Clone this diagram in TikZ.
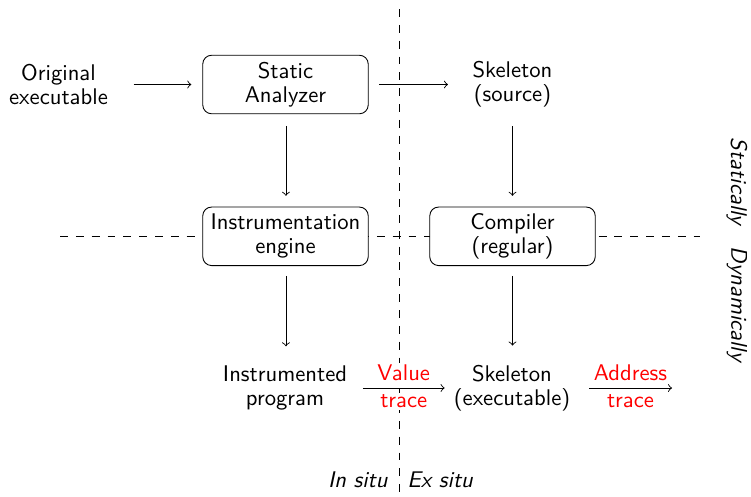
\documentclass[tikz,border=0pt]{standalone}
\begin{document}
\begin{tikzpicture}[x=0.4545pt,y=-0.4545pt,
  font=\sffamily\fontsize{10.3}{11}\selectfont,
  proc/.style={draw,rounded corners=4pt,fill=white,align=center,minimum width=75.2pt,minimum height=26.6pt,inner sep=2pt},
  plain/.style={align=center,inner sep=1pt},
  lbl/.style={text=red,fill=white,inner sep=1pt},
  sep/.style={dash pattern=on 3.6pt off 3.6pt},
  side/.style={inner sep=1pt,font=\sffamily\itshape\fontsize{10.3}{11}\selectfont},
  flow/.style={->}]
\useasboundingbox (0,0) rectangle (751,496);
\draw[sep] (399,9) -- (399,496);
\draw[sep] (60,236) -- (700,236);
\node[plain] (orig) at (58.5,84.5) {Original\\executable};
\node[proc] (sa) at (285.5,84.5) {Static\\Analyzer};
\node[plain] (skes) at (512.5,84.5) {Skeleton\\(source)};
\node[proc] (ie) at (285.5,236.3) {Instrumentation\\engine};
\node[proc] (comp) at (512.5,236.3) {Compiler\\(regular)};
\node[plain] (ip) at (285,388) {Instrumented\\program};
\node[plain] (skee) at (512,388) {Skeleton\\(executable)};
\coordinate (aend) at (672,388);
\draw[flow] ([xshift=10.5pt]orig.east) -- ([xshift=-5pt]sa.west);
\draw[flow] ([xshift=4.8pt]sa.east) -- ([xshift=-10pt]skes.west);
\draw[flow] ([xshift=0.2pt,yshift=-5.3pt]sa.south) -- ([xshift=0.2pt,yshift=4.9pt]ie.north);
\draw[flow] ([yshift=-7.2pt]skes.south) -- ([yshift=4.9pt]comp.north);
\draw[flow] ([xshift=0.2pt,yshift=-4.5pt]ie.south) -- ([xshift=0.2pt,yshift=7.6pt]ie.south |- ip.north);
\draw[flow] ([yshift=-4.5pt]comp.south) -- ([yshift=7.6pt]comp.south |- skee.north);
\draw[flow] ([xshift=6pt]ip.east) -- node[lbl,above=2pt]{Value} node[lbl,below=2pt]{trace} ([xshift=-3pt]skee.west);
\draw[flow] ([xshift=7.4pt]skee.east) -- node[lbl,above=2pt]{Address} node[lbl,below=2pt]{trace} (aend);
\node[side,anchor=base east,inner sep=0pt] (insitu) at (388,487) {In situ};
\node[side,anchor=base west,inner sep=0pt] (exsitu) at (407,487) {Ex situ};
\node[side,rotate=-90,anchor=east] (stat) at (737,228) {Statically};
\node[side,rotate=-90,anchor=west] (dyn) at (737,244) {Dynamically};
\end{tikzpicture}
\end{document}
